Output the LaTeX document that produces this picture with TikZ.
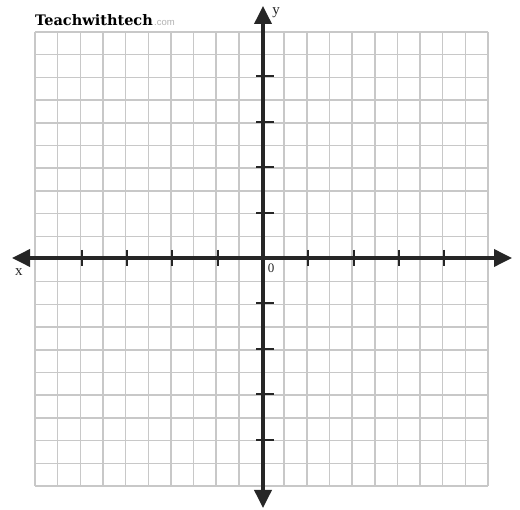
\documentclass[tikz,border=0pt]{standalone}
\usepackage{fontspec}
\setmainfont{Liberation Serif}
\newfontfamily\titlefont{DejaVu Serif}
\newfontfamily\comfont{Liberation Sans}
\usetikzlibrary{arrows.meta,calc}
\definecolor{gridgray}{HTML}{C8C8C8}
\definecolor{axisdark}{HTML}{262626}
\tikzset{
  gridline/.style={draw=gridgray, line width=1.5pt},
  axisline/.style={draw=axisdark, line width=3.6pt, -{Triangle[length=18pt,width=17pt]}},
  tickmark/.style={draw=axisdark, line width=2pt},
  lbl/.style={font=\fontsize{15}{15}\selectfont, text=axisdark, inner sep=0pt},
}
\begin{document}
\begin{tikzpicture}[x=1pt,y=-1pt]
\useasboundingbox[fill=white] (0,0) rectangle (520,510);
% grid
\foreach \i in {0,...,20} {
  \draw[gridline] ({35+22.65*\i},32) -- ({35+22.65*\i},486);
  \draw[gridline] (35,{32+22.7*\i}) -- (488,{32+22.7*\i});
}
% axis endpoints
\coordinate (O) at (263,258);
\coordinate (xl) at (12,258);
\coordinate (xr) at (512,258);
\coordinate (yt) at (263,6);
\coordinate (yb) at (263,508);
% ticks on x axis
\foreach \k in {-8,-6,-4,-2,2,4,6,8} {
  \draw[tickmark] ($(O)+({22.65*\k},-8)$) -- ($(O)+({22.65*\k},8)$);
}
% ticks on y axis
\foreach \k in {-8,-6,-4,-2,2,4,6,8} {
  \draw[tickmark] ($(O)+(-7,{22.7*\k})$) -- ($(O)+(11,{22.7*\k})$);
}
% axes
\draw[axisline] (O) -- (xr);
\draw[axisline] (O) -- (xl);
\draw[axisline] (O) -- (yt);
\draw[axisline] (O) -- (yb);
% labels
\node[lbl, anchor=center] (xlab) at (19,272) {x};
\node[lbl, anchor=center] (ylab) at (276,13) {y};
\node[lbl, anchor=center, font=\fontsize{13}{13}\selectfont] (zero) at (271,268) {0};
\node[anchor=base west, inner sep=0pt, text=black] (title) at (35,26)
  {\titlefont\fontsize{14.5}{14.5}\selectfont\bfseries Teachwithtech};
\node[anchor=base west, inner sep=0pt, text=gray!60, xshift=1pt] (com) at (title.base east)
  {\comfont\fontsize{9.5}{9.5}\selectfont .com};
\end{tikzpicture}
\end{document}
